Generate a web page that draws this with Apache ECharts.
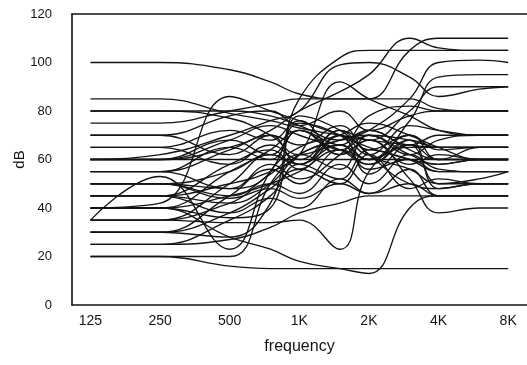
<!DOCTYPE html>
<html><head><meta charset="utf-8">
<script src="https://cdn.jsdelivr.net/npm/echarts@6/dist/echarts.min.js"></script>
<style>html,body{margin:0;padding:0;background:#fff}#c{width:527px;height:365px}</style>
</head><body><div id="c"></div>
<script>
// Frequencies (Hz) at which each curve is sampled
const frequencies = [125, 250, 500, 750, 1000, 1500, 2000, 3000, 4000, 6000, 8000];
const tickFrequencies = [125, 250, 500, 1000, 2000, 4000, 8000];
const tickLabels = ['125', '250', '500', '1K', '2K', '4K', '8K'];

// Curve values in dB at each frequency above
const s01 = [100, 100, 97, 92, 87, 85, 85, 85, 81, 80, 80];
const s02 = [85, 85, 79, 76, 73, 70, 68, 66, 65, 65, 65];
const s03 = [80, 80, 80, 78, 74, 68, 72, 66, 70, 70, 70];
const s04 = [80, 80, 77, 70, 62, 66, 56, 60, 55, 55, 55];
const s05 = [75, 75, 80, 83, 85, 85, 85, 105, 110, 110, 110];
const s06 = [50, 50, 48, 55, 85, 102, 105, 105, 105, 105, 105];
const s07 = [60, 60, 65, 72, 80, 88, 95, 110, 106, 105, 105];
const s08 = [45, 45, 42, 50, 62, 68, 72, 85, 100, 101, 100];
const s09 = [60, 62, 70, 76, 80, 99, 100, 94, 86, 89, 90];
const s10 = [40, 40, 45, 50, 55, 64, 60, 76, 94, 95, 95];
const s11 = [50, 50, 55, 62, 58, 72, 68, 80, 90, 90, 90];
const s12 = [70, 70, 78, 80, 74, 80, 72, 78, 80, 80, 80];
const s13 = [55, 55, 65, 60, 72, 66, 78, 82, 80, 80, 80];
const s14 = [35, 35, 50, 62, 58, 70, 62, 74, 72, 70, 70];
const s15 = [60, 60, 68, 62, 72, 64, 70, 62, 68, 70, 70];
const s16 = [70, 70, 62, 70, 58, 66, 60, 70, 64, 65, 65];
const s17 = [30, 30, 45, 56, 50, 64, 58, 68, 65, 65, 65];
const s18 = [55, 55, 48, 58, 52, 62, 72, 64, 60, 65, 65];
const s19 = [65, 65, 58, 66, 60, 72, 64, 70, 60, 60, 60];
const s20 = [40, 40, 55, 64, 72, 62, 68, 58, 62, 60, 60];
const s21 = [25, 25, 35, 45, 58, 52, 64, 60, 58, 60, 60];
const s22 = [60, 60, 60, 60, 60, 60, 60, 60, 60, 60, 60];
const s23 = [50, 50, 45, 54, 62, 56, 70, 62, 58, 60, 60];
const s24 = [45, 45, 58, 64, 56, 70, 54, 66, 50, 52, 55];
const s25 = [35, 35, 42, 50, 46, 58, 50, 62, 56, 55, 55];
const s26 = [55, 55, 64, 70, 66, 74, 62, 56, 50, 50, 50];
const s27 = [60, 60, 68, 74, 70, 64, 58, 68, 48, 50, 50];
const s28 = [30, 30, 38, 48, 56, 50, 62, 48, 52, 50, 50];
const s29 = [40, 40, 28, 23, 18, 15, 13, 40, 45, 45, 45];
const s30 = [35, 35, 34, 34, 35, 23, 55, 65, 65, 65, 65];
const s31 = [35, 53, 23, 55, 65, 70, 75, 70, 65, 60, 60];
const s32 = [20, 20, 20, 50, 62, 68, 70, 68, 65, 65, 65];
const s33 = [20, 20, 16, 15, 15, 15, 15, 15, 15, 15, 15];
const s34 = [25, 25, 27, 32, 38, 42, 45, 45, 45, 45, 45];
const s35 = [40, 42, 86, 80, 76, 70, 65, 60, 55, 55, 55];
const s36 = [65, 65, 72, 68, 76, 62, 68, 52, 38, 40, 40];
const s37 = [45, 45, 38, 44, 40, 52, 46, 56, 45, 45, 45];
const s38 = [50, 50, 44, 48, 44, 50, 46, 50, 45, 45, 45];
const s39 = [45, 45, 50, 55, 62, 92, 85, 78, 72, 70, 70];
const s40 = [30, 30, 28, 42, 75, 70, 60, 66, 60, 60, 60];
const s41 = [40, 40, 36, 40, 78, 72, 62, 50, 48, 50, 50];

const curves = [s01, s02, s03, s04, s05, s06, s07, s08, s09, s10, s11, s12, s13,
  s14, s15, s16, s17, s18, s19, s20, s21, s22, s23, s24, s25, s26, s27, s28, s29,
  s30, s31, s32, s33, s34, s35, s36, s37, s38, s39, s40, s41];

const chart = echarts.init(document.getElementById('c'), null, {renderer: 'canvas'});
const ink = '#141414';
const font = 'Liberation Sans, Arial, sans-serif';
const fmtX = function (v) {
  let best = 0;
  for (let i = 0; i < tickFrequencies.length; i++) {
    if (Math.abs(tickFrequencies[i] - v) < Math.abs(tickFrequencies[best] - v)) best = i;
  }
  return tickLabels[best];
};
chart.setOption({
  animation: false,
  backgroundColor: '#fff',
  grid: {left: 72, right: 0, top: 14, bottom: 60, containLabel: false, outerBoundsMode: 'none'},
  xAxis: [{
    type: 'log', logBase: 2, min: 104, max: 9650,
    axisLine: {show: true, lineStyle: {color: ink, width: 1.6}},
    axisTick: {show: false},
    splitLine: {show: false},
    axisLabel: {customValues: tickFrequencies, formatter: fmtX, fontSize: 14,
      color: ink, margin: 9, fontFamily: font},
    name: 'frequency', nameLocation: 'middle', nameGap: 34, nameMoveOverlap: false,
    nameTextStyle: {fontSize: 16, color: ink, fontFamily: font}
  }, {
    type: 'log', logBase: 2, min: 104, max: 9650, position: 'top',
    axisLine: {show: true, lineStyle: {color: ink, width: 1.6}},
    axisTick: {show: false}, axisLabel: {show: false}, splitLine: {show: false}
  }],
  yAxis: {
    type: 'value', min: 0, max: 120, interval: 20,
    axisLine: {show: true, lineStyle: {color: ink, width: 1.6}},
    axisTick: {show: false},
    splitLine: {show: false},
    axisLabel: {fontSize: 13, color: ink, margin: 20, fontFamily: font},
    name: 'dB', nameLocation: 'middle', nameGap: 45, nameRotate: 90, nameMoveOverlap: false,
    nameTextStyle: {fontSize: 15, color: ink, fontFamily: font}
  },
  series: curves.map(function (vals, k) {
    return {
      type: 'line', name: 'c' + (k + 1), xAxisIndex: 0, silent: true,
      showSymbol: false, symbol: 'none', smooth: 0.45,
      lineStyle: {color: ink, width: 1.35},
      data: frequencies.map(function (f, i) { return [f, vals[i]]; })
    };
  })
});
</script></body></html>
